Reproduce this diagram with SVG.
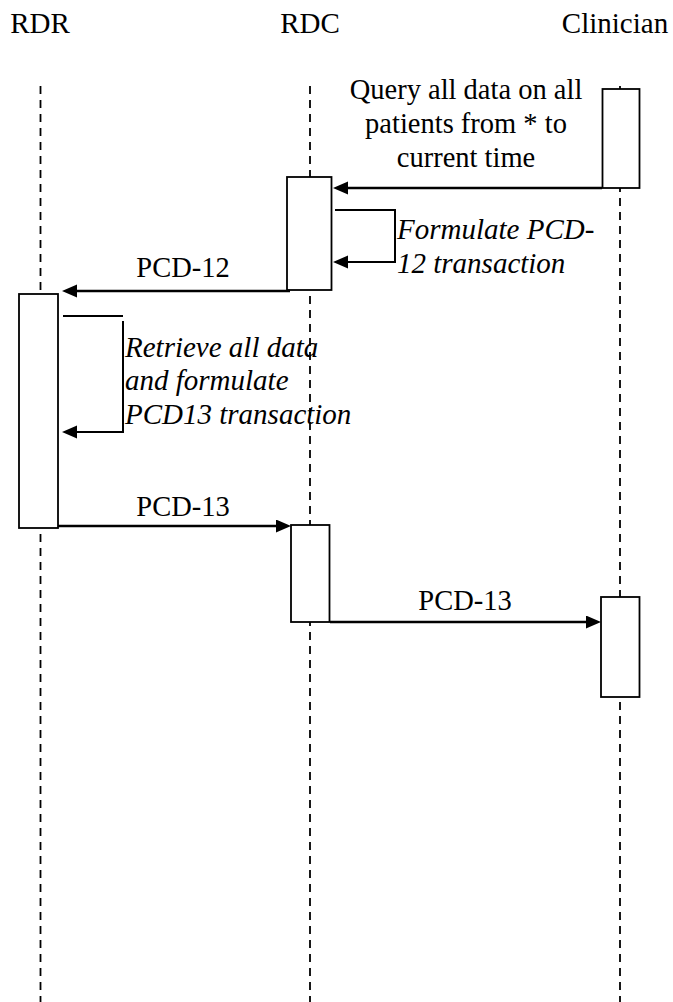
<svg xmlns="http://www.w3.org/2000/svg" width="673" height="1002" viewBox="0 0 673 1002">
<style>
text{font-family:"Liberation Serif","Times New Roman",serif;fill:#000;}
.t{font-size:29px;}
.b{font-size:28.5px;}
.i{font-size:29px;font-style:italic;}
.life{stroke:#000;stroke-width:1.8;stroke-dasharray:8 6;fill:none;}
.act{fill:#fff;stroke:#000;stroke-width:1.8;}
.msg{stroke:#000;stroke-width:2.6;fill:none;}
.self{stroke:#000;stroke-width:2;fill:none;}
</style>
<defs>
<marker id="ah" markerUnits="userSpaceOnUse" markerWidth="16" markerHeight="14" refX="3" refY="6.5" orient="auto">
<path d="M0,0 L15,6.5 L0,13 z" fill="#000"/>
</marker>
</defs>
<g id="RDR">
<text class="t" x="40" y="33" text-anchor="middle">RDR</text>
<line class="life" x1="40.5" y1="86" x2="40.5" y2="1002"/>
<rect class="act" x="19" y="294" width="39" height="234"/>
</g>
<g id="RDC">
<text class="t" x="310" y="33" text-anchor="middle">RDC</text>
<line class="life" x1="310" y1="86" x2="310" y2="1002"/>
<rect class="act" x="287" y="177" width="44.5" height="113"/>
<rect class="act" x="291" y="525" width="38.5" height="97"/>
</g>
<g id="Clinician">
<text class="t" x="615" y="33" text-anchor="middle">Clinician</text>
<line class="life" x1="620" y1="86" x2="620" y2="1002"/>
<rect class="act" x="602.5" y="89" width="37" height="99"/>
<rect class="act" x="601" y="597" width="38.5" height="100"/>
</g>
<g id="connectors">
<line class="msg" x1="602" y1="188" x2="345" y2="188" marker-end="url(#ah)"/>
<text class="b" x="466" y="99" text-anchor="middle">Query all data on all</text>
<text class="b" x="466" y="133" text-anchor="middle">patients from * to</text>
<text class="b" x="466" y="167" text-anchor="middle">current time</text>
<polyline class="self" points="335,210 395,210 395,262 345,262" marker-end="url(#ah)"/>
<text class="i" x="397" y="239">Formulate PCD-</text>
<text class="i" x="397" y="273">12 transaction</text>
<line class="msg" x1="290" y1="291" x2="74" y2="291" marker-end="url(#ah)"/>
<text class="b" x="183" y="277" text-anchor="middle">PCD-12</text>
<line class="self" x1="63" y1="316" x2="123" y2="316"/>
<polyline class="self" points="123,321 123,432 74,432" marker-end="url(#ah)"/>
<text class="i" x="125" y="357">Retrieve all data</text>
<text class="i" x="125" y="390">and formulate</text>
<text class="i" x="125" y="424">PCD13 transaction</text>
<line class="msg" x1="58" y1="526" x2="279" y2="526" marker-end="url(#ah)"/>
<text class="b" x="183" y="516" text-anchor="middle">PCD-13</text>
<line class="msg" x1="330" y1="622" x2="589" y2="622" marker-end="url(#ah)"/>
<text class="b" x="465" y="610" text-anchor="middle">PCD-13</text>
</g>
</svg>
